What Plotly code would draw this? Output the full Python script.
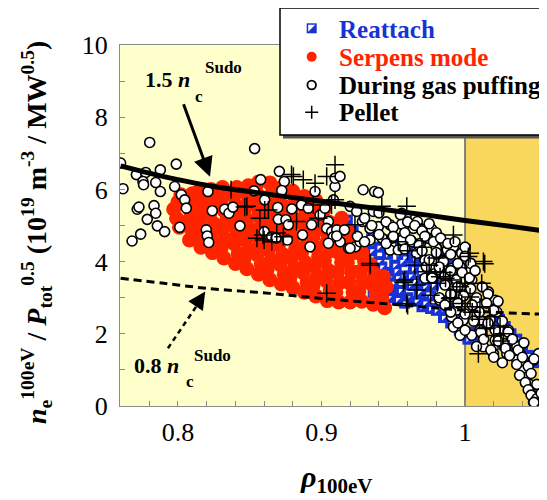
import plotly.graph_objects as go

# ---------------- data ----------------
X_RANGE = [0.7596, 1.0571]
Y_RANGE = [0, 10]
x_tickvals = [0.78, 0.80, 0.82, 0.84, 0.86, 0.88, 0.90, 0.92, 0.94, 0.96, 0.98, 1.00, 1.02, 1.04]
x_ticktext = ['', '0.8', '', '', '', '', '0.9', '', '', '', '', '1', '', '']
y_tickvals = [0, 1, 2, 3, 4, 5, 6, 7, 8, 9, 10]
y_ticktext = ['0', '', '2', '', '4', '', '6', '', '8', '', '10']

sudo15_x = [0.76, 0.78, 0.80, 0.825, 0.85, 0.875, 0.90, 0.925, 0.95, 0.975, 1.0, 1.025, 1.057]
sudo15_y = [6.65, 6.45, 6.27, 6.08, 5.94, 5.80, 5.67, 5.54, 5.41, 5.28, 5.14, 5.01, 4.84]
sudo08_x = [0.76, 0.79, 0.82, 0.864, 0.90, 0.958, 1.014, 1.057]
sudo08_y = [3.54, 3.40, 3.26, 3.12, 2.98, 2.79, 2.61, 2.54]

reattach_points = [
    (0.918, 5.15), (0.922, 4.85), (0.925, 4.55), (0.918, 4.25), (0.928, 4.2), (0.930, 3.9),
    (0.935, 4.3), (0.938, 3.6), (0.940, 4.0), (0.942, 3.3), (0.945, 3.7), (0.947, 3.0),
    (0.950, 3.4), (0.951, 3.9), (0.953, 2.95), (0.955, 3.2), (0.957, 3.6), (0.958, 4.1),
    (0.960, 3.0), (0.962, 3.35), (0.964, 3.8), (0.966, 2.9), (0.968, 3.15), (0.970, 3.5),
    (0.972, 2.85), (0.974, 3.1), (0.976, 2.7), (0.978, 3.35), (0.980, 2.65), (0.983, 2.9),
    (0.985, 2.45), (0.988, 2.7), (0.990, 2.3), (0.993, 2.5), (0.996, 2.1), (0.999, 1.95),
    (1.002, 1.85), (1.005, 2.05), (1.008, 1.75), (1.012, 1.95), (1.018, 2.25), (1.024, 2.4),
    (1.028, 2.2), (1.032, 2.0), (1.036, 1.85), (1.040, 1.6), (1.044, 1.4), (1.048, 1.2),
    (1.035, 1.55), (1.026, 1.7), (0.932, 3.45), (0.936, 3.15), (0.927, 3.75), (0.944, 2.85),
    (0.960, 4.4), (0.970, 4.0), (0.975, 3.8), (0.955, 4.5), (0.945, 4.6), (0.935, 4.8),
    (0.893, 5.55), (0.910, 4.9), (0.982, 4.2), (0.990, 3.9), (0.972, 3.3), (0.976, 3.05),
    (0.948, 3.25), (0.952, 3.75), (0.956, 4.0), (0.962, 3.6), (0.958, 2.85), (0.970, 2.75),
    (0.965, 3.45), (0.953, 3.55), (0.946, 4.2), (0.940, 4.4), (0.965, 4.1), (0.942, 3.85),
]

serpens_points = [
    (0.801, 4.95), (0.799, 5.2), (0.797, 5.45), (0.800, 5.65), (0.802, 5.85),
    (0.808, 4.6), (0.810, 4.85), (0.806, 5.1), (0.809, 5.35), (0.807, 5.6), (0.810, 5.88),
    (0.816, 4.4), (0.814, 4.65), (0.817, 4.9), (0.815, 5.15), (0.818, 5.4), (0.816, 5.65), (0.814, 5.93),
    (0.824, 4.25), (0.826, 4.52), (0.823, 4.78), (0.825, 5.05), (0.822, 5.3), (0.826, 5.55), (0.824, 5.8), (0.823, 6.0),
    (0.832, 4.1), (0.830, 4.37), (0.833, 4.63), (0.831, 4.9), (0.834, 5.15), (0.832, 5.42), (0.830, 5.68), (0.833, 5.92), (0.831, 6.05),
    (0.840, 3.95), (0.842, 4.22), (0.839, 4.5), (0.841, 4.76), (0.838, 5.02), (0.842, 5.3), (0.840, 5.56), (0.839, 5.82), (0.841, 6.05),
    (0.848, 3.8), (0.846, 4.07), (0.849, 4.34), (0.847, 4.6), (0.850, 4.88), (0.848, 5.14), (0.846, 5.4), (0.849, 5.67), (0.847, 5.92), (0.849, 6.1),
    (0.856, 3.65), (0.858, 3.92), (0.855, 4.2), (0.857, 4.46), (0.854, 4.73), (0.858, 5.0), (0.856, 5.27), (0.855, 5.53), (0.857, 5.8), (0.854, 6.05), (0.856, 6.2),
    (0.864, 3.5), (0.862, 3.77), (0.865, 4.05), (0.863, 4.32), (0.866, 4.6), (0.864, 4.87), (0.862, 5.13), (0.865, 5.4), (0.863, 5.67), (0.866, 5.94), (0.864, 6.18),
    (0.872, 3.38), (0.874, 3.65), (0.871, 3.92), (0.873, 4.2), (0.870, 4.47), (0.874, 4.74), (0.872, 5.0), (0.871, 5.28), (0.873, 5.55), (0.870, 5.82), (0.872, 6.05),
    (0.880, 3.28), (0.878, 3.55), (0.881, 3.82), (0.879, 4.1), (0.882, 4.37), (0.880, 4.64), (0.878, 4.9), (0.881, 5.18), (0.879, 5.45), (0.882, 5.72), (0.880, 5.95),
    (0.888, 3.15), (0.890, 3.42), (0.887, 3.7), (0.889, 3.97), (0.886, 4.24), (0.890, 4.5), (0.888, 4.78), (0.887, 5.05), (0.889, 5.32), (0.886, 5.58), (0.888, 5.8),
    (0.896, 3.05), (0.894, 3.32), (0.897, 3.6), (0.895, 3.87), (0.898, 4.14), (0.896, 4.4), (0.894, 4.68), (0.897, 4.95), (0.895, 5.22), (0.898, 5.48), (0.896, 5.7),
    (0.904, 2.92), (0.906, 3.2), (0.903, 3.48), (0.905, 3.75), (0.902, 4.02), (0.906, 4.3), (0.904, 4.57), (0.903, 4.84), (0.905, 5.1), (0.902, 5.45),
    (0.912, 2.88), (0.910, 3.15), (0.913, 3.43), (0.911, 3.7), (0.914, 3.98), (0.912, 4.25), (0.910, 4.52), (0.913, 4.8), (0.911, 5.05), (0.914, 5.2),
    (0.920, 2.88), (0.922, 3.15), (0.919, 3.42), (0.921, 3.7), (0.918, 3.97), (0.922, 4.25), (0.920, 4.52), (0.919, 4.8),
    (0.928, 2.9), (0.926, 3.17), (0.929, 3.45), (0.927, 3.72), (0.930, 4.0), (0.928, 4.25), (0.926, 4.4),
    (0.936, 2.82), (0.938, 3.1), (0.935, 3.38), (0.937, 3.65), (0.934, 3.92),
    (0.944, 2.72), (0.942, 3.0), (0.945, 3.3), (0.943, 3.58),
]

gas_points = [
    (0.7803, 7.30), (0.760, 6.73), (0.771, 6.41), (0.7775, 6.47), (0.7756, 6.22), (0.776, 6.13),
    (0.7845, 6.19), (0.7877, 6.54), (0.7877, 5.94), (0.7988, 6.70), (0.7617, 6.02), (0.7977, 6.08),
    (0.8023, 5.85), (0.8047, 5.71), (0.8058, 5.48), (0.7833, 5.55), (0.7845, 5.34), (0.7786, 5.17),
    (0.7856, 4.99), (0.7907, 4.83), (0.7716, 5.45), (0.7728, 5.51), (0.774, 4.76), (0.768, 4.57),
    (0.8012, 4.95), (0.8209, 5.94), (0.8239, 5.41), (0.8197, 4.88), (0.8204, 4.71), (0.8214, 4.53),
    (0.8325, 5.45), (0.8355, 5.34), (0.8383, 5.51), (0.8432, 4.99), (0.853, 5.96), (0.8534, 7.13),
    (0.8576, 6.27), (0.8604, 5.71), (0.8706, 6.50), (0.8741, 6.22), (0.8723, 5.97), (0.8695, 5.50),
    (0.8793, 5.46), (0.8861, 5.57), (0.8908, 5.48), (0.8699, 5.17), (0.8752, 5.16), (0.8769, 5.02),
    (0.8601, 4.83), (0.8653, 4.69), (0.8683, 4.65), (0.8762, 4.60), (0.8868, 4.74), (0.892, 4.41),
    (0.8931, 5.02), (0.8955, 5.94), (0.899, 5.29), (0.9024, 5.48), (0.9048, 5.11), (0.9036, 4.92),
    (0.9071, 4.83), (0.9106, 4.88), (0.9083, 4.69), (0.913, 4.55), (0.9048, 4.51), (0.9094, 6.08),
    (0.9094, 6.31), (0.9129, 6.36), (0.9083, 5.71), (0.9199, 5.53), (0.9245, 5.39), (0.9189, 4.37),
    (0.9236, 4.41), (0.916, 4.88), (0.929, 5.99), (0.937, 5.94), (0.9396, 5.91),
    (0.9361, 5.39), (0.9285, 5.11), (0.9338, 4.92), (0.9396, 4.97), (0.9477, 5.02), (0.9559, 5.04),
    (0.9559, 5.34), (0.9589, 5.27), (0.9668, 5.11), (0.964, 4.92), (0.9699, 4.90), (0.9768, 4.90),
    (0.9422, 4.65), (0.9492, 4.65), (0.9562, 4.60), (0.9631, 4.55), (0.969, 4.51), (0.9736, 4.65),
    (0.9806, 4.37), (0.9876, 4.32), (0.9941, 4.37), (0.9981, 4.23), (0.9106, 4.71), (0.9199, 4.37),
    (0.9268, 4.55), (0.9338, 4.60), (0.9477, 4.32), (0.9535, 4.32), (0.9663, 4.23),
    (0.9721, 4.04), (0.9756, 3.86), (0.9791, 3.67), (0.9849, 4.04), (0.9884, 3.77), (0.9919, 3.58),
    (0.9966, 3.86), (0.9942, 3.40), (0.9988, 3.21), (0.9826, 2.93), (0.9895, 3.02),
    (0.9721, 3.54), (0.980, 4.37), (0.9919, 4.41), (0.9977, 4.23), (0.973, 3.86), (0.9824, 3.77),
    (0.9906, 3.81), (1.0035, 3.72), (1.0047, 3.49), (0.9777, 3.54), (0.9824, 2.93),
    (0.9942, 2.66), (0.9906, 2.47), (0.9919, 2.19), (0.9988, 2.38), (1.0093, 2.84), (1.0163, 3.16),
    (1.021, 2.93), (1.0221, 2.61), (1.0174, 2.38), (1.0104, 2.38), (1.0104, 2.10), (1.0244, 2.10),
    (1.0302, 2.10), (1.0325, 1.82), (1.0268, 1.73), (1.0128, 1.64), (1.0198, 1.45), (1.0291, 1.45),
    (1.0361, 1.64), (1.0384, 1.45), (1.0361, 1.27), (1.0407, 0.99), (1.0431, 0.80), (1.0442, 0.62),
    (1.0453, 0.43), (1.0488, 0.25), (1.0535, 0.16), (1.0477, 0.11), (1.0512, 1.45), (1.0477, 1.27),
    (0.9965, 1.96), (1.0047, 1.96), (1.021, 1.82),
    (0.930, 5.2), (0.935, 5.0), (0.940, 5.35), (0.945, 5.1), (0.950, 4.95), (0.955, 5.3), (0.960, 5.1),
    (0.965, 5.0), (0.970, 4.85), (0.975, 5.05), (0.980, 4.8), (0.925, 4.7), (0.930, 4.55), (0.940, 4.75),
    (0.945, 4.5), (0.950, 4.7), (0.958, 4.8), (0.962, 4.6), (0.968, 4.45), (0.972, 4.7), (0.978, 4.55),
    (0.983, 4.65), (0.988, 4.5), (0.993, 4.55), (1.000, 4.4), (0.958, 4.35),
    (0.970, 4.3), (0.975, 4.05), (0.980, 4.25), (0.985, 4.0), (0.990, 4.2), (0.995, 3.95), (1.000, 4.15),
    (1.004, 3.95), (0.977, 3.55), (0.982, 3.85), (0.986, 3.6), (0.990, 3.75), (0.994, 3.5),
    (0.998, 3.7), (1.003, 3.55), (1.007, 3.75), (0.982, 3.0), (0.986, 3.35),
    (0.990, 3.1), (0.995, 3.3), (0.999, 3.05), (1.004, 3.25), (1.008, 3.0), (1.012, 3.3), (1.016, 3.1),
    (0.986, 2.8), (0.990, 2.6), (0.995, 2.85), (1.000, 2.55), (1.005, 2.8), (1.010, 2.6), (1.015, 2.85),
    (1.020, 2.65), (1.023, 2.9), (0.995, 2.3), (1.000, 2.1), (1.006, 2.35), (1.011, 2.05), (1.016, 2.3),
    (1.021, 2.1), (1.026, 2.35), (1.030, 2.05), (1.008, 1.65), (1.013, 1.85), (1.018, 1.55), (1.023, 1.8),
    (1.028, 1.6), (1.033, 1.85), (1.037, 1.55), (1.041, 1.75), (1.020, 1.35), (1.026, 1.2), (1.031, 1.4),
    (1.036, 1.15), (1.040, 1.35), (1.044, 1.1), (1.048, 1.3), (1.038, 0.85), (1.042, 0.65), (1.046, 0.9),
    (1.050, 0.6), (1.044, 0.45), (1.046, 0.3), (1.050, 0.2), (1.054, 0.12), (1.048, 0.1), (1.053, 0.35),
]

pellet_points = [
    (0.837, 5.99), (0.8465, 5.51), (0.857, 5.20), (0.8604, 5.43), (0.8593, 4.74), (0.848, 5.53),
    (0.863, 5.43), (0.8688, 4.79), (0.8653, 4.55), (0.8734, 4.69), (0.8826, 5.11), (0.8791, 6.41),
    (0.8873, 6.27), (0.8955, 6.17), (0.9036, 6.36), (0.9094, 6.68), (0.9094, 5.71), (0.8943, 5.57),
    (0.8978, 5.20), (0.9036, 3.12), (0.942, 5.53), (0.9594, 5.53), (0.9919, 4.74),
    (0.9233, 5.02), (0.9338, 3.95), (0.9535, 4.55), (0.958, 3.49), (0.9663, 3.35), (0.9593, 2.84),
    (0.9733, 3.72), (0.9806, 3.40), (0.9864, 3.54), (0.9942, 3.21), (0.9895, 2.98), (0.9977, 2.84),
    (1.0128, 4.0), (1.0023, 4.14), (1.0116, 3.40), (0.9826, 3.58), (0.9663, 3.21), (1.0035, 4.23),
    (1.0093, 1.45), (0.9895, 3.49), (0.9965, 3.30), (1.0035, 3.02), (1.0104, 2.75), (1.0174, 2.47),
    (1.0244, 2.19), (1.0268, 2.0), (0.8804, 6.36), (0.9070, 5.57), (0.934, 3.9), (0.957, 3.43),
    (0.976, 3.07), (1.0137, 3.94), (0.975, 3.9), (0.985, 3.7), (1.000, 3.4), (0.990, 3.0),
    (1.000, 2.75), (1.010, 2.4), (1.015, 2.15), (1.005, 2.6), (1.020, 1.95), (0.980, 4.1),
    (0.970, 4.4), (0.965, 3.9), (0.960, 4.3), (1.025, 1.8), (0.860, 4.6), (0.855, 4.65),
    (0.960, 2.79),
]

# ---------------- styling constants ----------------
SERIF = 'Liberation Serif'
BLUE = '#1832D6'
RED = '#FF2400'
GOLD = '#F9D75C'
PALE = '#FFFFCC'
AXIS_GRAY = '#8a8a8a'

# The page adds an 8px body margin, so the figure is 8px smaller than the window
W, H = 539, 492
L, R, T, B = 112, 539, 37, 398   # plot area in figure pixels
OFF = 8                           # page offset of the figure


def pxp(p):
    """page x pixel -> paper x"""
    return (p - OFF - L) / (R - L)


def pyp(p):
    """page y pixel -> paper y"""
    return (B - (p - OFF)) / (B - T)


def xs(pts):
    return [p[0] for p in pts]


def ys(pts):
    return [p[1] for p in pts]


fig = go.Figure()

# reattach (blue squares with a white corner triangle)
fig.add_trace(go.Scatter(x=xs(reattach_points), y=ys(reattach_points), mode='markers',
                         marker=dict(symbol='square', size=11, color=BLUE, line=dict(width=0)),
                         showlegend=False, hoverinfo='skip'))
fig.add_trace(go.Scatter(x=xs(reattach_points), y=ys(reattach_points), mode='markers',
                         marker=dict(symbol='triangle-nw', size=5, color='white', line=dict(width=0)),
                         showlegend=False, hoverinfo='skip'))
# serpens mode
fig.add_trace(go.Scatter(x=xs(serpens_points), y=ys(serpens_points), mode='markers',
                         marker=dict(symbol='circle', size=15, color=RED, line=dict(width=0)),
                         showlegend=False, hoverinfo='skip'))
# gas puffing
fig.add_trace(go.Scatter(x=xs(gas_points), y=ys(gas_points), mode='markers',
                         marker=dict(symbol='circle', size=10, color='white',
                                     line=dict(width=1.6, color='black')),
                         showlegend=False, hoverinfo='skip'))
# pellet
fig.add_trace(go.Scatter(x=xs(pellet_points), y=ys(pellet_points), mode='markers',
                         marker=dict(symbol='cross-thin-open', size=13, color='black',
                                     line=dict(width=1.5, color='black')),
                         showlegend=False, hoverinfo='skip'))

# Sudo limit lines
fig.add_trace(go.Scatter(x=sudo15_x, y=sudo15_y, mode='lines', line=dict(color='black', width=5),
                         line_shape='spline', showlegend=False, hoverinfo='skip'))
fig.add_trace(go.Scatter(x=sudo08_x, y=sudo08_y, mode='lines',
                         line=dict(color='black', width=3, dash='8px,5px'),
                         line_shape='spline', showlegend=False, hoverinfo='skip'))


def prect(x0, x1, y0, y1, **kw):
    return dict(type='rect', xref='paper', yref='paper',
                x0=pxp(x0), x1=pxp(x1), y0=pyp(y1), y1=pyp(y0), **kw)


shapes = [
    # golden region beyond the separatrix
    dict(type='rect', xref='x', yref='y', x0=1.0, x1=1.1, y0=0, y1=10,
         fillcolor=GOLD, line=dict(width=0), layer='below'),
    dict(type='line', xref='x', yref='y', x0=1.0, x1=1.0, y0=0, y1=10,
         line=dict(color='#7f7f7f', width=2), layer='below'),
    # dashed arrow shaft for 0.8 n_c
    dict(type='line', xref='x', yref='y', x0=0.793, y0=1.60, x1=0.8160, y1=2.95,
         line=dict(color='black', width=2.5, dash='5px,4px'), layer='above'),
    # legend shadow and box
    prect(283, 570, 11, 138.5, fillcolor='#555555', line=dict(width=0), layer='above'),
    prect(280, 567, 8, 135, fillcolor='white', line=dict(color='black', width=1.5), layer='above'),
    # legend symbols
    prect(306.7, 316.7, 23.3, 33.3, fillcolor=BLUE, line=dict(width=0), layer='above'),
    dict(type='path', xref='paper', yref='paper',
         path='M {:.5f},{:.5f} L {:.5f},{:.5f} L {:.5f},{:.5f} Z'.format(
             pxp(308.2), pyp(24.8), pxp(315.2), pyp(24.8), pxp(308.2), pyp(31.8)),
         fillcolor='white', line=dict(width=0), layer='above'),
    dict(type='circle', xref='paper', yref='paper', x0=pxp(306.7), x1=pxp(316.7),
         y0=pyp(61.7), y1=pyp(51.7), fillcolor=RED, line=dict(width=0), layer='above'),
    dict(type='circle', xref='paper', yref='paper', x0=pxp(307.4), x1=pxp(316.0),
         y0=pyp(89.3), y1=pyp(80.7), fillcolor='white', line=dict(color='black', width=1.8),
         layer='above'),
    dict(type='path', xref='paper', yref='paper',
         path='M {:.5f},{:.5f} L {:.5f},{:.5f} M {:.5f},{:.5f} L {:.5f},{:.5f}'.format(
             pxp(305.2), pyp(112.3), pxp(318.2), pyp(112.3),
             pxp(311.7), pyp(105.8), pxp(311.7), pyp(118.8)),
         line=dict(color='black', width=1.5), layer='above'),
]


def ptext(x, y, text, size, color='black', xanchor='left', **kw):
    return dict(xref='paper', yref='paper', x=pxp(x), y=pyp(y), xanchor=xanchor,
                yanchor='middle', showarrow=False, text=text,
                font=dict(family=SERIF, size=size, color=color), **kw)


annotations = [
    # legend labels
    ptext(337, 30, '<b>Reattach</b>', 25, BLUE),
    ptext(337, 57.5, '<b>Serpens mode</b>', 25, RED),
    ptext(337, 85.5, '<b>During gas puffing</b>', 25),
    ptext(337, 113, '<b>Pellet</b>', 25),
    # 1.5 n_c^Sudo label
    ptext(143, 80, '<b>1.5 <i>n</i></b>', 22),
    ptext(193, 97, '<b>c</b>', 17),
    ptext(203, 68, '<b>Sudo</b>', 17),
    # 0.8 n_c^Sudo label
    ptext(132, 365, '<b>0.8 <i>n</i></b>', 22),
    ptext(184, 381, '<b>c</b>', 17),
    ptext(192, 355, '<b>Sudo</b>', 17),
    # arrows
    dict(xref='x', yref='y', axref='x', ayref='y', x=0.8223, y=6.35, ax=0.8035, ay=8.40,
         text='', showarrow=True, arrowhead=2, arrowsize=1.3, arrowwidth=3, arrowcolor='black'),
    dict(xref='x', yref='y', axref='x', ayref='y', x=0.8190, y=3.17, ax=0.8150, ay=2.93,
         text='', showarrow=True, arrowhead=2, arrowsize=1.4, arrowwidth=2.5, arrowcolor='black'),
    # axis titles
    ptext(336, 479, '<b><i>ρ</i><sub>100eV</sub></b>', 30, xanchor='center'),
    ptext(36, 233, '<b><i>n</i><sub>e</sub><sup>100eV</sup> / <i>P</i><sub>tot</sub><sup>0.5</sup>'
                   ' (10<sup>19</sup> m<sup>-3</sup> / MW<sup>0.5</sup>)</b>', 28,
          xanchor='center', textangle=-90),
]

axis_common = dict(showline=True, linecolor=AXIS_GRAY, linewidth=1, mirror=True,
                   ticks='inside', ticklen=5, tickcolor=AXIS_GRAY, tickwidth=1,
                   showgrid=False, zeroline=False,
                   tickfont=dict(family=SERIF, size=26, color='black'))

fig.update_layout(
    width=W, height=H,
    margin=dict(l=L, r=W - R, t=T, b=H - B, pad=0),
    paper_bgcolor='white', plot_bgcolor=PALE,
    showlegend=False,
    xaxis=dict(axis_common, range=X_RANGE, tickmode='array', tickvals=x_tickvals,
               ticktext=x_ticktext, ticklabelstandoff=3),
    yaxis=dict(axis_common, range=Y_RANGE, tickmode='array', tickvals=y_tickvals,
               ticktext=y_ticktext, ticklabelstandoff=6),
    shapes=shapes,
    annotations=annotations,
)

fig.write_html('out.html')
